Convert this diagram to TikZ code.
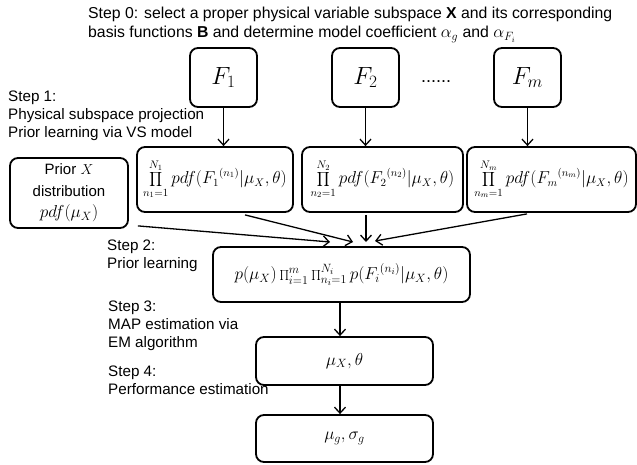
\documentclass[tikz,border=0pt]{standalone}
\usepackage{fontspec}
\setmainfont{Liberation Sans}
\usetikzlibrary{arrows.meta,calc}
\begin{document}
\begin{tikzpicture}[x=1pt,y=-1pt,
  box/.style={draw,line width=1.8pt,rounded corners=8pt,inner sep=0pt,align=center},
  steptext/.style={anchor=north west,inner sep=0pt,align=left,font=\fontsize{15.2}{17.8}\selectfont},
  likebox/.style={box,minimum height=65pt,font=\fontsize{16}{19}\selectfont},
  varbox/.style={box,minimum width=67pt,minimum height=59pt,font=\fontsize{27}{30}\selectfont},
  flow/.style={line width=1.3pt,-{Straight Barb[length=6pt,width=11pt,line width=1.3pt]}}]
\useasboundingbox (0,0) rectangle (637,465);

% step descriptions
\node[steptext,font=\fontsize{15.8}{19}\selectfont] (s0) at (88,7) {Step 0: select a proper physical variable subspace \textbf{X} and its corresponding\\basis functions \textbf{B} and determine model coefficient {\fontsize{17}{19}\selectfont$\alpha_g$} and {\fontsize{17}{19}\selectfont$\alpha_{F_i}$}};
\node[steptext] (s1) at (8,91) {Step 1:\\Physical subspace projection\\Prior learning via VS model};
\node[steptext] (s2) at (107,240) {Step 2:\\Prior learning};
\node[steptext] (s3) at (108,301) {Step 3:\\MAP estimation via\\EM algorithm};
\node[steptext] (s4) at (108,366) {Step 4:\\Performance estimation};

% performance variables
\node[varbox] (f1) at (223.5,77.5) {$F_1$};
\node[varbox] (f2) at (365.5,77.5) {$F_2$};
\node[varbox] (fm) at (527.5,77.5) {$F_m$};
\node[inner sep=0pt,font=\fontsize{18}{20}\selectfont] (dots) at (436,82) {......};

% likelihood boxes
\node[likebox,minimum width=156pt] (p1) at (215,179.5)
  {$\displaystyle\prod_{n_1=1}^{N_1} pdf({F_1}^{(n_1)}|\mu_X,\theta)$};
\node[likebox,minimum width=161pt] (p2) at (382.5,179.5)
  {$\displaystyle\prod_{n_2=1}^{N_2} pdf({F_2}^{(n_2)}|\mu_X,\theta)$};
\node[likebox,minimum width=169pt] (pm) at (551.5,179.5)
  {$\displaystyle\prod_{n_m=1}^{N_m} pdf({F_m}^{(n_m)}|\mu_X,\theta)$};

% prior
\node[box,minimum width=118pt,minimum height=70pt,font=\fontsize{15}{21.5}\selectfont] (prior) at (69,193)
  {Prior $X$\\distribution\\{\fontsize{17}{21.5}\selectfont$pdf(\mu_X)$}};

% posterior and results
\node[box,minimum width=257pt,minimum height=55pt,font=\fontsize{18}{20}\selectfont] (comb) at (341.5,274.5)
  {$p(\mu_X)\prod_{i=1}^{m}\prod_{n_i=1}^{N_i} p({F_i}^{(n_i)}|\mu_X,\theta)$};
\node[box,minimum width=177pt,minimum height=48pt,font=\fontsize{17.5}{20}\selectfont] (mu) at (344.5,361)
  {$\mu_X,\theta$};
\node[box,minimum width=177pt,minimum height=47pt,font=\fontsize{17.5}{20}\selectfont] (sig) at (344.5,438.5)
  {$\mu_g,\sigma_g$};

% connectors
\draw[flow] (f1.south) -- (f1.south |- p1.north);
\draw[flow] (f2.south) -- (f2.south |- p2.north);
\draw[flow] (fm.south) -- (fm.south |- pm.north);

\coordinate (a0) at ($(prior.south east)+(9,-3)$);
\coordinate (a1) at ($(p1.south)+(30,2)$);
\coordinate (a2) at ($(p2.south)+(-16.5,2)$);
\coordinate (am) at ($(pm.south)+(-24.5,1)$);
\coordinate (t0) at (330,242);
\coordinate (t1) at (353,242);
\coordinate (t2) at (366,242);
\coordinate (tm) at (375,241);
\draw[flow] (a0) -- (t0);
\draw[flow] (a1) -- (t1);
\draw[flow] (a2) -- (t2);
\draw[flow] (am) -- (tm);

\draw[flow] (340,0 |- comb.south) -- (340,0 |- mu.north);
\draw[flow] (340,0 |- mu.south) -- (340,0 |- sig.north);
\end{tikzpicture}
\end{document}
